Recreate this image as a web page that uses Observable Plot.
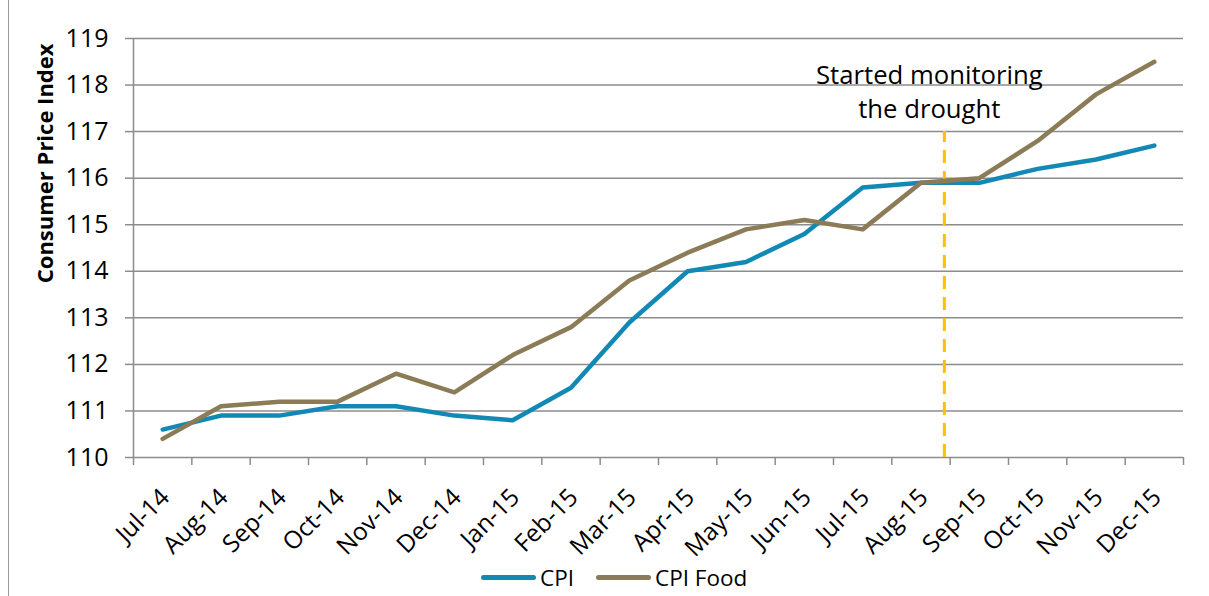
<!DOCTYPE html>
<html>
<head>
<meta charset="utf-8">
<script src="https://cdn.jsdelivr.net/npm/d3@7"></script>
<script src="https://cdn.jsdelivr.net/npm/@observablehq/plot@0.6"></script>
<style>
  html, body { margin: 0; padding: 0; background: #fff; }
  #wrap { position: relative; width: 1209px; height: 596px; overflow: hidden; font-family: "Open Sans", sans-serif; }
  #frame { position: absolute; left: 8px; top: 0; width: 0; height: 596px; border-left: 1.5px solid #9a9a9a; }
  #legend { position: absolute; left: 481px; top: 561px; height: 32px; display: flex; align-items: center; font-size: 22.5px; color: #000; }
  #legend .item { display: flex; align-items: center; margin-right: 22px; }
  #legend .sw { display: inline-block; width: 55px; height: 5px; border-radius: 2.5px; margin-right: 4px; }
</style>
</head>
<body>
<div id="wrap">
  <div id="chart"></div>
  <div id="frame"></div>
  <div id="legend"></div>
</div>
<script>
const months = ["Jul-14","Aug-14","Sep-14","Oct-14","Nov-14","Dec-14","Jan-15","Feb-15","Mar-15","Apr-15","May-15","Jun-15","Jul-15","Aug-15","Sep-15","Oct-15","Nov-15","Dec-15"];
const cpi =     [110.6,110.9,110.9,111.1,111.1,110.9,110.8,111.5,112.9,114.0,114.2,114.8,115.8,115.9,115.9,116.2,116.4,116.7];
const cpiFood = [110.4,111.1,111.2,111.2,111.8,111.4,112.2,112.8,113.8,114.4,114.9,115.1,114.9,115.9,116.0,116.8,117.8,118.5];
const yTicks = [110,111,112,113,114,115,116,117,118,119];
const seriesNames = ["CPI", "CPI Food"];
const seriesColors = ["#1289B5", "#8B7B56"];
const droughtStart = 13.4;   // between Aug-15 and Sep-15
const droughtTop = 117;
const annotation = "Started monitoring\nthe drought";
const annotationY = 117.9;
const yLabel = "Consumer Price Index";

const rows = months.map((m, i) => ({i, m, cpi: cpi[i], food: cpiFood[i]}));
const boundaries = d3.range(months.length + 1).map(k => k - 0.5);
const gray = "#8c8c8c";

const chart = Plot.plot({
  width: 1209,
  height: 555,
  marginLeft: 133,
  marginRight: 26,
  marginTop: 38,
  marginBottom: 98,
  x: {type: "linear", domain: [-0.5, months.length - 0.5]},
  y: {domain: [110, 119]},
  style: {fontFamily: "'Open Sans', sans-serif", fontSize: "24px", color: "#000", background: "#fff", overflow: "visible"},
  marks: [
    Plot.ruleY(yTicks, {stroke: gray, strokeWidth: 1.5}),
    Plot.ruleX([-0.5], {stroke: gray, strokeWidth: 1.5}),
    Plot.axisY({ticks: yTicks, tickSize: 8, tickPadding: 17, tickFormat: d => d, label: null, stroke: gray, strokeWidth: 1.5, fontSize: 25, fill: "#000"}),
    Plot.axisX({ticks: boundaries, tickSize: 8, tickFormat: () => "", label: null, stroke: gray, strokeWidth: 1.5}),
    Plot.text(rows, {x: "i", text: "m", frameAnchor: "bottom", rotate: -45, textAnchor: "end", lineAnchor: "top", dx: -4, dy: 29, fontSize: 24.5, fill: "#000"}),
    Plot.ruleX([droughtStart], {y1: 110, y2: droughtTop, stroke: "#FFC000", strokeWidth: 3, strokeDasharray: "13,8"}),
    Plot.line(rows, {x: "i", y: "cpi", stroke: seriesColors[0], strokeWidth: 4.5}),
    Plot.line(rows, {x: "i", y: "food", stroke: seriesColors[1], strokeWidth: 4.5}),
    Plot.text([annotation], {text: d => d, x: droughtStart, y: annotationY, dx: -15, fontSize: 25.7, lineHeight: 1.32, lineAnchor: "middle", fill: "#000"}),
    Plot.text([yLabel], {text: d => d, frameAnchor: "top-left", rotate: -90, textAnchor: "end", dx: -96, dy: 5, fontWeight: "bold", fontSize: 22, fill: "#000"})
  ]
});
document.getElementById("chart").appendChild(chart);

const legend = document.getElementById("legend");
seriesNames.forEach((name, k) => {
  const item = document.createElement("div");
  item.className = "item";
  const sw = document.createElement("span");
  sw.className = "sw";
  sw.style.background = seriesColors[k];
  const lab = document.createElement("span");
  lab.textContent = name;
  item.appendChild(sw);
  item.appendChild(lab);
  legend.appendChild(item);
});
</script>
</body>
</html>
